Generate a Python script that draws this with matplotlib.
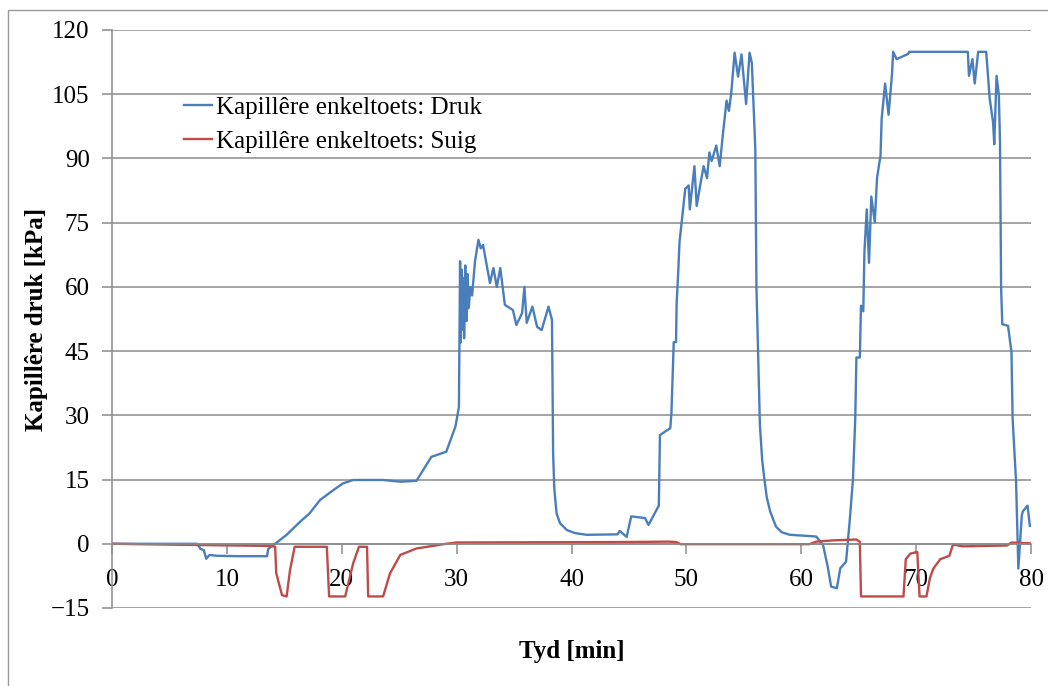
import matplotlib.pyplot as plt
from matplotlib.patches import Rectangle

# Kapillêre enkeltoets: Druk (blue)
druk_t = [0, 7.4, 7.5, 7.7, 8.0, 8.2, 8.5, 9.1, 11.0, 13.5, 13.6, 14.2, 15.2, 16.4, 17.2, 18.1, 19.3, 20.1,
          21.0, 23.6, 25.1, 26.5, 27.8, 29.1, 29.9, 30.2, 30.3, 30.35, 30.45, 30.5, 30.6, 30.65, 30.75, 30.85,
          30.95, 31.05, 31.2, 31.35, 31.6, 31.9, 32.1, 32.3, 32.9, 33.2, 33.5, 33.8, 34.2, 34.9, 35.2, 35.7,
          35.9, 36.1, 36.6, 37.0, 37.4, 38.0, 38.3, 38.4, 38.5, 38.7, 39.0, 39.6, 40.3, 41.3, 44.0, 44.2,
          44.8, 45.2, 46.4, 46.7, 47.6, 47.7, 48.6, 48.7, 48.9, 49.1, 49.15, 49.3, 49.4, 49.6, 49.9, 50.2,
          50.3, 50.7, 50.9, 51.2, 51.5, 51.8, 52.0, 52.2, 52.6, 52.9, 53.2, 53.5, 53.7, 53.9, 54.2, 54.5,
          54.8, 55.2, 55.5, 55.7, 56.0, 56.1, 56.4, 56.6, 56.8, 57.0, 57.3, 57.8, 58.3, 59.0, 61.3, 61.9,
          62.3, 62.6, 63.1, 63.4, 63.9, 64.2, 64.5, 64.7, 64.8, 65.1, 65.2, 65.4, 65.5, 65.7, 65.9, 66.1,
          66.4, 66.6, 66.9, 67.0, 67.3, 67.6, 67.9, 68.0, 68.3, 69.3, 69.4, 74.5, 74.6, 74.9, 75.1, 75.4,
          76.1, 76.4, 76.7, 76.8, 77.0, 77.2, 77.3, 77.4, 77.5, 78.0, 78.3, 78.4, 78.7, 78.9, 79.2, 79.3,
          79.7, 79.9]
druk_v = [0, 0, -0.3, -1.2, -1.5, -3.5, -2.6, -2.8, -2.9, -2.9, -1.2, 0, 2.1, 5.2, 7.1, 10.2, 12.6, 14.1,
          14.9, 14.9, 14.5, 14.7, 20.3, 21.5, 27.4, 32, 66, 47, 64, 50, 62, 48, 65, 52,
          63, 55, 60, 58, 66, 71, 69, 69.8, 60.9, 64.4, 60, 64.4, 55.8, 54.6, 51.1, 53.9,
          60, 51.6, 55.4, 50.7, 49.9, 55.4, 52.3, 21.1, 13.0, 7.1, 4.8, 3.2, 2.5, 2.1, 2.2, 3.0,
          1.6, 6.4, 6.0, 4.4, 8.9, 25.4, 27, 30.6, 47.1, 47.1, 56, 64, 70.4, 75.3, 82.9, 83.7,
          78.1, 88.2, 78.9, 83.7, 88.2, 85.4, 91.4, 89.4, 93, 88.2, 96.2, 103.5, 101.1, 105.1, 114.7, 109.1,
          114.3, 102.7, 114.7, 112.3, 92.2, 60, 27.8, 19.5, 14.9, 10.8, 7.5, 4.0, 2.7, 2.1, 1.7, -0.3,
          -5.3, -10, -10.4, -5.7, -4.2, 4.8, 15, 29.2, 43.5, 43.5, 55.6, 54.3, 68.2, 78.1, 65.6, 81.1,
          75.1, 85.5, 90.7, 99.3, 107.5, 100.2, 109.7, 114.9, 113.2, 114.4, 114.9, 114.9, 109.3, 113.2, 107.5, 114.9,
          114.9, 104.1, 98.4, 93.3, 109.3, 104.9, 94.1, 59.5, 51.3, 50.9, 44.8, 29.2, 14.5, -5.8, 6.7, 7.6,
          8.9, 4.2]

# Kapillêre enkeltoets: Suig (red)
suig_t = [0, 5, 13.8, 14.2, 14.3, 14.8, 15.2, 15.5, 15.9, 18.7, 18.9, 20.3, 21.0, 21.5, 22.2, 22.3, 23.6,
          24.2, 25.1, 26.5, 29.1, 30, 44, 48.5, 49.1, 49.5, 60.7, 61.3, 62.8, 64.8, 65.1, 65.2, 68.9,
          69.1, 69.5, 70.1, 70.3, 70.9, 71.2, 71.5, 72.1, 72.9, 73.2, 74.1, 77.9, 78.3, 80]
suig_v = [0, -0.2, -0.5, -0.7, -6.9, -12, -12.3, -6.1, -0.7, -0.7, -12.3, -12.3, -4.5, -0.7, -0.7, -12.3, -12.3,
          -6.9, -2.6, -1.1, 0, 0.3, 0.4, 0.5, 0.4, -0.1, -0.1, 0.5, 0.8, 1.0, 0.5, -12.3, -12.3,
          -3.6, -2.3, -1.9, -12.3, -12.3, -8, -5.8, -3.6, -2.8, -0.2, -0.6, -0.4, 0.3, 0.1]

y_ticks = [-15, 0, 15, 30, 45, 60, 75, 90, 105, 120]
x_ticks = [0, 10, 20, 30, 40, 50, 60, 70, 80]

plt.rcParams['font.family'] = ['Liberation Serif', 'DejaVu Serif']
grey = '#8c8c8c'

fig = plt.figure(figsize=(10.48, 6.86), dpi=100)
ax = fig.add_axes([112/1048, 1-608/686, (1031-112)/1048, (608-30)/686])

ax.plot(druk_t, druk_v, color='#4a7ebb', lw=1.7, label='Kapillêre enkeltoets: Druk')
ax.plot(suig_t, suig_v, color='#be4b48', lw=1.7, label='Kapillêre enkeltoets: Suig')

ax.set_xlim(0, 80)
ax.set_ylim(-15, 120)
ax.set_xticks(x_ticks)
ax.set_yticks(y_ticks)
ax.yaxis.grid(True, color=grey, lw=1.1)
ax.set_axisbelow(True)

for s in ['top', 'right']:
    ax.spines[s].set_visible(False)
ax.spines['bottom'].set_position(('data', 0))                 # x axis crosses at 0
ax.spines['bottom'].set_color(grey)
ax.spines['left'].set_color(grey)
ax.spines['bottom'].set_linewidth(1.1)
ax.spines['left'].set_linewidth(1.1)
ax.tick_params(axis='both', colors=grey, labelcolor='black', labelsize=18, length=7, width=1.1)
ax.tick_params(axis='x', pad=11)
ax.tick_params(axis='y', pad=9)

ax.set_ylabel('Kapillêre druk [kPa]', fontsize=18, fontweight='bold', labelpad=2)
ax.set_xlabel('Tyd [min]', fontsize=18, fontweight='bold')
ax.xaxis.set_label_coords(0.5, -0.055)

ax.legend(loc='upper left', bbox_to_anchor=(0.068, 0.902), frameon=False, fontsize=18,
          handlelength=1.1, handletextpad=0.15, labelspacing=0.45, borderaxespad=0)

# outer chart frame
fig.add_artist(Rectangle((8/1048, -0.1), 1.2, 0.1 + 1 - 10/686, transform=fig.transFigure,
                         fill=False, edgecolor='#999999', lw=1))

plt.savefig('out.png', dpi=100)
